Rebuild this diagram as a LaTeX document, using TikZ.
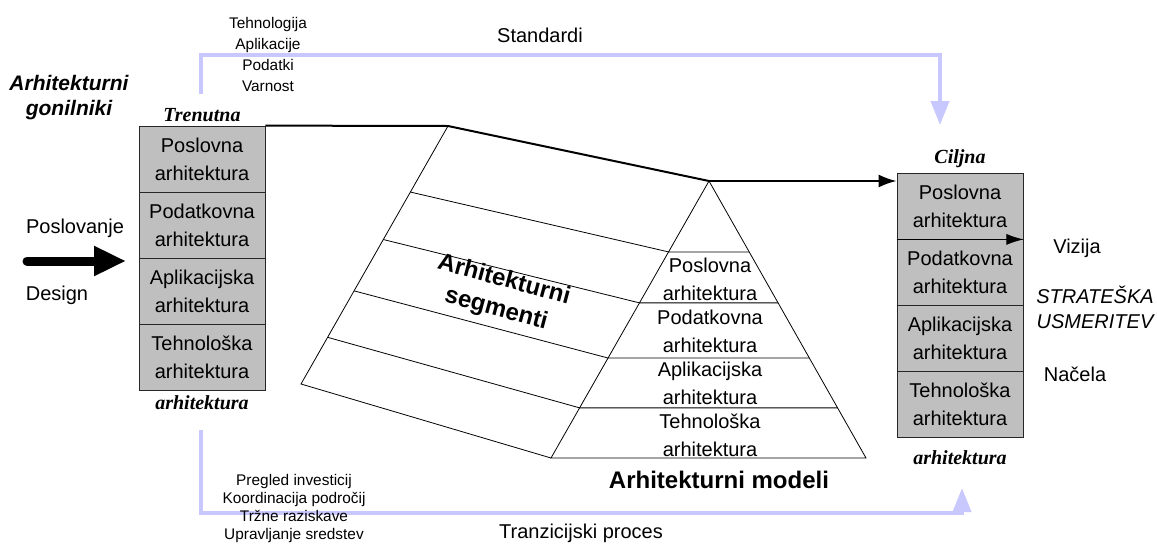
\documentclass[tikz,border=0pt]{standalone}
\usepackage{fontspec}
\setmainfont{Liberation Serif}
\setsansfont{Liberation Sans}
\usetikzlibrary{arrows,arrows.meta,shapes,calc}
\definecolor{lavender}{RGB}{200,200,255}
\tikzstyle{layer}=[rectangle,draw=black!85,fill=black!25,minimum width=63pt,minimum height=33pt,inner sep=0pt,align=center,font=\sffamily\fontsize{10}{14}\selectfont]
\tikzstyle{modeltext}=[align=center,inner sep=0pt,font=\sffamily\fontsize{10}{14}\selectfont]
\tikzstyle{sidetext}=[align=center,inner sep=1pt,font=\sffamily\fontsize{10}{12.5}\selectfont]
\tikzstyle{smalltext}=[align=center,inner sep=1pt,font=\sffamily\fontsize{7.7}{10.5}\selectfont]
\tikzstyle{serifhead}=[inner sep=1pt,font=\bfseries\itshape\fontsize{10}{12}\selectfont]
\tikzstyle{bigtext}=[align=center,inner sep=1pt,font=\sffamily\bfseries\fontsize{12}{15}\selectfont]
\tikzstyle{stdline}=[draw=lavender,line width=2pt,-{Triangle[length=12pt,width=9pt]}]
\tikzstyle{edge}=[draw,line width=1pt,-{Latex[length=9pt,width=6.5pt]}]

\begin{document}
\begin{tikzpicture}[x=0.5pt, y=-0.5pt]

    \useasboundingbox (0,0) rectangle (1157,552);

    % trenutna arhitektura
    \foreach \y/\name/\txt in {159/lp/Poslovna, 225/ld/Podatkovna, 291/la/Aplikacijska, 357/lt/Tehnološka}
        \node[layer] (\name) at (202,\y) {\txt\\arhitektura};

    % ciljna arhitektura
    \foreach \y/\name/\txt in {206/rp/Poslovna, 272/rd/Podatkovna, 338/ra/Aplikacijska, 404/rt/Tehnološka}
        \node[layer] (\name) at (960,\y) {\txt\\arhitektura};

    \node[serifhead] (trenutna) at (202,115) {Trenutna};
    \node[serifhead] (trenutnab) at (202,403) {arhitektura};
    \node[serifhead] (ciljna) at (960,159) {Ciljna};
    \node[serifhead] (ciljnab) at (960,458) {arhitektura};

    \draw[-{Latex[length=8.5pt,width=5.5pt]}] (rp.south west) -- (rp.south east);

    % segmenti in modeli
    \coordinate (pa) at (448,126);
    \coordinate (pb) at (301,384);
    \coordinate (apex) at (709,181);
    \coordinate (bl) at (551,458);
    \coordinate (br) at (866,458);

    \draw (pa) -- (pb) -- (bl);
    \draw (apex) -- (bl) -- (br) -- cycle;
    \foreach \t in {0.256, 0.44, 0.639, 0.819}
        \draw ($(pa)!\t!(pb)$) -- ($(apex)!\t!(bl)$) -- ($(apex)!\t!(br)$);

    \draw[line width=1pt] (lp.north east) -- (pa) -- (apex);
    \path[edge] (apex) -- (apex -| rp.west);

    \foreach \y/\name/\txt in {279/mp/Poslovna, 331/md/Podatkovna, 383/ma/Aplikacijska, 435/mt/Tehnološka}
        \node[modeltext] (\name) at (710,\y) {\txt\\arhitektura};

    \node[bigtext, rotate=-15] (segmenti) at (500,295) {Arhitekturni\\segmenti};
    \node[bigtext] (modeli) at (719,480) {Arhitekturni modeli};

    % gonilniki
    \node[align=center, inner sep=1pt, font=\sffamily\bfseries\itshape\fontsize{10.5}{12.5}\selectfont] (gonilniki) at (69,98) {Arhitekturni\\gonilniki};

    \coordinate (drvstart) at (27,261);
    \coordinate (drvend) at (126,261);
    \draw[line width=4.5pt, line cap=round, -{Triangle[length=16pt,width=14pt]}] (drvstart) -- (drvend);
    \node[sidetext] (poslovanje) at (75,228) {Poslovanje};
    \node[sidetext] (design) at (57,295) {Design};

    % standardi
    \coordinate (stdstart) at (201,94);
    \coordinate (stdend) at (940,125);
    \draw[stdline] (stdstart) -- ++(0,-39) -| (stdend);
    \node[smalltext] (podrocja) at (268,54) {Tehnologija\\Aplikacije\\Podatki\\Varnost};
    \node[sidetext] (standardi) at (540,35) {Standardi};

    % tranzicija
    \coordinate (transtart) at (201,430);
    \coordinate (tranend) at (962,488);
    \draw[stdline] (transtart) -- ++(0,83) -| (tranend);
    \node[smalltext, font=\sffamily\fontsize{7.7}{9}\selectfont] (aktivnosti) at (294,509) {Pregled investicij\\Koordinacija področij\\Tržne raziskave\\Upravljanje sredstev};
    \node[sidetext] (tranzicija) at (581,533) {Tranzicijski proces};

    % usmeritev
    \node[sidetext] (vizija) at (1077,248) {Vizija};
    \node[sidetext, font=\sffamily\itshape\fontsize{10}{12.5}\selectfont] (strateska) at (1095,307) {STRATEŠKA\\USMERITEV};
    \node[sidetext] (nacela) at (1075,374) {Načela};

\end{tikzpicture}
\end{document}
